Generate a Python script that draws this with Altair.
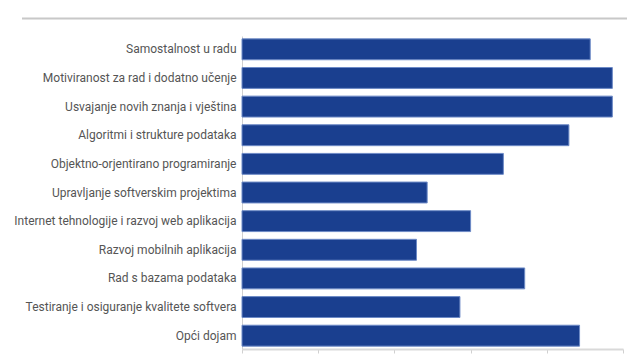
import altair as alt
import pandas as pd

categories = [
    "Samostalnost u radu",
    "Motiviranost za rad i dodatno učenje",
    "Usvajanje novih znanja i vještina",
    "Algoritmi i strukture podataka",
    "Objektno-orjentirano programiranje",
    "Upravljanje softverskim projektima",
    "Internet tehnologije i razvoj web aplikacija",
    "Razvoj mobilnih aplikacija",
    "Rad s bazama podataka",
    "Testiranje i osiguranje kvalitete softvera",
    "Opći dojam",
]
values = [4.57, 4.86, 4.86, 4.29, 3.43, 2.43, 3.00, 2.29, 3.71, 2.86, 4.43]
x_ticks = [0, 1, 2, 3, 4, 5]

df = pd.DataFrame({"kategorija": categories, "ocjena": values})

bars = alt.Chart(df).mark_bar(
    color="#1a3f8f", stroke="#6d8ac6", strokeWidth=1
).encode(
    y=alt.Y(
        "kategorija:N",
        sort=categories,
        title=None,
        scale=alt.Scale(paddingInner=0.27, paddingOuter=0.1),
        axis=alt.Axis(
            ticks=False,
            labelFont="Roboto",
            labelFontSize=12,
            labelColor="#555555",
            labelPadding=6,
            labelLimit=400,
            domainColor="#d0d0d0",
            domainWidth=1,
        ),
    ),
    x=alt.X(
        "ocjena:Q",
        title=None,
        scale=alt.Scale(domain=[0, 5], nice=False),
        axis=alt.Axis(
            values=x_ticks,
            grid=False,
            labels=False,
            tickSize=4,
            tickColor="#d0d0d0",
            domainColor="#d9d9d9",
            domainWidth=2,
        ),
    ),
)

header_rule = alt.Chart(pd.DataFrame({"a": [0]})).mark_rule(
    color="#c8c8c8", strokeWidth=2
).encode(
    x=alt.value(-220),
    x2=alt.value(385),
    y=alt.value(-17.5),
)

chart = alt.layer(bars, header_rule).properties(
    width=381,
    height=313,
    autosize=alt.AutoSizeParams(type="none"),
    padding={"left": 234, "top": 28, "right": 8, "bottom": 5},
).configure_view(stroke=None)

chart.save("out.html", embed_options={"renderer": "svg", "actions": False})
